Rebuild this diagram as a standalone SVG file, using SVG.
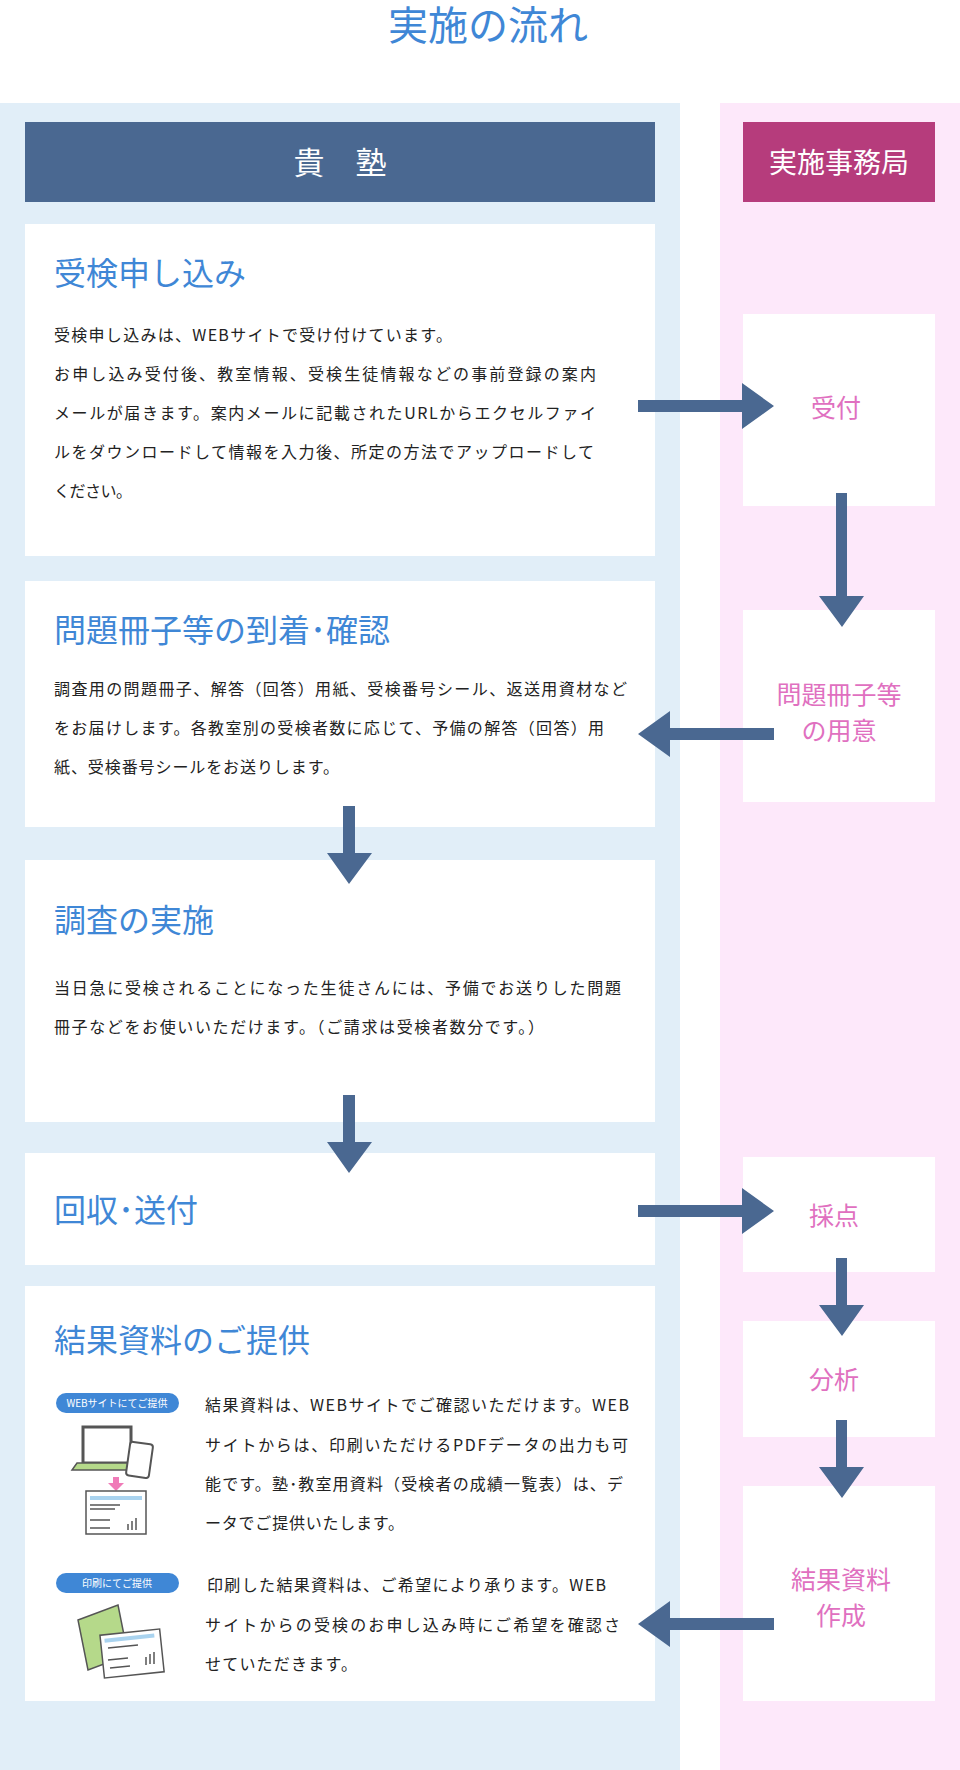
<svg xmlns="http://www.w3.org/2000/svg" width="960" height="1770" viewBox="0 0 960 1770">
<style>
text{font-family:"Noto Sans CJK JP","Noto Sans",sans-serif}
.card{fill:#fff}
.ttl{fill:#3f87d6;font-size:32px}
.body{fill:#222;font-size:16px}
.rbox{fill:#fff}
.rl{fill:#e070c0;font-size:25px;text-anchor:middle}
.arr{fill:#4a6891}
.pill{fill:#3f87d6}
.pt{fill:#fff;font-size:10px;text-anchor:middle}
.ln{stroke:#555;stroke-width:1.5;fill:none}
</style>
<rect width="960" height="1770" fill="#fff"/>
<text x="488" y="40" font-size="40" fill="#3f87d6" text-anchor="middle">実施の流れ</text>
<rect x="0" y="103" width="680" height="1667" fill="#e1eef8"/>
<rect x="720" y="103" width="240" height="1667" fill="#fde8fa"/>
<g id="h1"><rect x="25" y="122" width="630" height="80" fill="#4a6891"/><text x="340" y="174" font-size="31" fill="#fff" text-anchor="middle">貴　塾</text></g>
<g id="h2"><rect x="743" y="122" width="192" height="80" fill="#b63c7c"/><text x="839" y="173" font-size="28" fill="#fff" text-anchor="middle">実施事務局</text></g>
<g id="c1"><rect class="card" x="25" y="224" width="630" height="332"/>
<text class="ttl" x="54" y="285">受検申し込み</text>
<text class="body" x="54" y="341" textLength="398" lengthAdjust="spacing">受検申し込みは、WEBサイトで受け付けています。</text>
<text class="body" x="54" y="380" textLength="542" lengthAdjust="spacing">お申し込み受付後、教室情報、受検生徒情報などの事前登録の案内</text>
<text class="body" x="54" y="419" textLength="542" lengthAdjust="spacing">メールが届きます。案内メールに記載されたURLからエクセルファイ</text>
<text class="body" x="54" y="458" textLength="540" lengthAdjust="spacing">ルをダウンロードして情報を入力後、所定の方法でアップロードして</text>
<text class="body" x="54" y="497" textLength="78" lengthAdjust="spacing">ください。</text></g>
<g id="c2"><rect class="card" x="25" y="581" width="630" height="246"/>
<text class="ttl" x="54" y="642">問題冊子等の到着･確認</text>
<text class="body" x="54" y="695" textLength="573" lengthAdjust="spacing">調査用の問題冊子、解答（回答）用紙、受検番号シール、返送用資材など</text>
<text class="body" x="54" y="734" textLength="550" lengthAdjust="spacing">をお届けします。各教室別の受検者数に応じて、予備の解答（回答）用</text>
<text class="body" x="54" y="773" textLength="285" lengthAdjust="spacing">紙、受検番号シールをお送りします。</text></g>
<g id="c3"><rect class="card" x="25" y="860" width="630" height="262"/>
<text class="ttl" x="54" y="932">調査の実施</text>
<text class="body" x="54" y="994" textLength="567" lengthAdjust="spacing">当日急に受検されることになった生徒さんには、予備でお送りした問題</text>
<text class="body" x="54" y="1033" textLength="490" lengthAdjust="spacing">冊子などをお使いいただけます。（ご請求は受検者数分です。）</text></g>
<g id="c4"><rect class="card" x="25" y="1153" width="630" height="112"/>
<text class="ttl" x="54" y="1222">回収･送付</text></g>
<g id="c5"><rect class="card" x="25" y="1286" width="630" height="415"/>
<text class="ttl" x="54" y="1352">結果資料のご提供</text>
<rect class="pill" x="56" y="1393" width="123" height="20" rx="10"/><text class="pt" x="117" y="1407">WEBサイトにてご提供</text>
<rect class="pill" x="56" y="1573" width="123" height="20" rx="10"/><text class="pt" x="117" y="1587">印刷にてご提供</text>
<rect x="83" y="1427" width="48" height="36" fill="#fff" stroke="#555" stroke-width="3"/>
<path d="M77 1463h62l5 7h-72z" fill="#b5d98a" stroke="#555" stroke-width="1.5"/>
<rect x="128" y="1443" width="23" height="34" rx="3" fill="#fff" stroke="#555" stroke-width="2" transform="rotate(8 140 1460)"/>
<path d="M113 1477h6v6h5l-8 8-8-8h5z" fill="#f07bb8"/>
<rect x="86" y="1491" width="60" height="43" fill="#fff" stroke="#555" stroke-width="1.5"/>
<rect x="90" y="1496" width="52" height="4" fill="#a9d3ef"/>
<path class="ln" d="M90 1505h30M90 1509h25M90 1520h20M90 1528h20M128 1530v-6M132 1530v-9M136 1530v-12"/>
<path d="M78 1620l40-15 10 50-40 15z" fill="#b5d98a" stroke="#555" stroke-width="1.5"/>
<rect x="102" y="1632" width="60" height="43" fill="#fff" stroke="#555" stroke-width="1.5" transform="rotate(-6 132 1653)"/>
<rect x="106" y="1636" width="50" height="4" fill="#a9d3ef" transform="rotate(-6 132 1653)"/>
<path class="ln" d="M108 1648l30-3M108 1660l20-2M110 1668l20-2M146 1665v-8M150 1664v-10M154 1664v-12"/>
<text class="body" x="205" y="1411" textLength="424" lengthAdjust="spacing">結果資料は、WEBサイトでご確認いただけます。WEB</text>
<text class="body" x="205" y="1451" textLength="423" lengthAdjust="spacing">サイトからは、印刷いただけるPDFデータの出力も可</text>
<text class="body" x="205" y="1490" textLength="418" lengthAdjust="spacing">能です。塾･教室用資料（受検者の成績一覧表）は、デ</text>
<text class="body" x="205" y="1529" textLength="199" lengthAdjust="spacing">ータでご提供いたします。</text>
<text class="body" x="207" y="1591" textLength="399" lengthAdjust="spacing">印刷した結果資料は、ご希望により承ります。WEB</text>
<text class="body" x="205" y="1631" textLength="415" lengthAdjust="spacing">サイトからの受検のお申し込み時にご希望を確認さ</text>
<text class="body" x="205" y="1670" textLength="152" lengthAdjust="spacing">せていただきます。</text></g>
<g id="r1"><rect class="rbox" x="743" y="314" width="192" height="192"/><text class="rl" x="836" y="417">受付</text></g>
<g id="r2"><rect class="rbox" x="743" y="610" width="192" height="192"/><text class="rl" x="839" y="704">問題冊子等</text><text class="rl" x="839" y="740">の用意</text></g>
<g id="r3"><rect class="rbox" x="743" y="1157" width="192" height="115"/><text class="rl" x="834" y="1225">採点</text></g>
<g id="r4"><rect class="rbox" x="743" y="1321" width="192" height="116"/><text class="rl" x="834" y="1389">分析</text></g>
<g id="r5"><rect class="rbox" x="743" y="1486" width="192" height="215"/><text class="rl" x="841" y="1589">結果資料</text><text class="rl" x="841" y="1625">作成</text></g>
<g id="connectors">
<path class="arr" d="M638 400h104v-17l32 23-32 23v-17h-104z"/>
<path class="arr" d="M836 493h11v103h17l-22 31-23-31h17z"/>
<path class="arr" d="M774 728h-104v-17l-32 23 32 23v-17h104z"/>
<path class="arr" d="M343 806h12v47h17l-23 31-22-31h16z"/>
<path class="arr" d="M343 1095h12v47h17l-23 31-22-31h16z"/>
<path class="arr" d="M638 1205h104v-17l32 23-32 23v-17h-104z"/>
<path class="arr" d="M836 1258h11v47h17l-22 31-23-31h17z"/>
<path class="arr" d="M836 1420h11v47h17l-22 31-23-31h17z"/>
<path class="arr" d="M774 1618h-104v-17l-32 23 32 23v-17h104z"/>
</g>
</svg>
